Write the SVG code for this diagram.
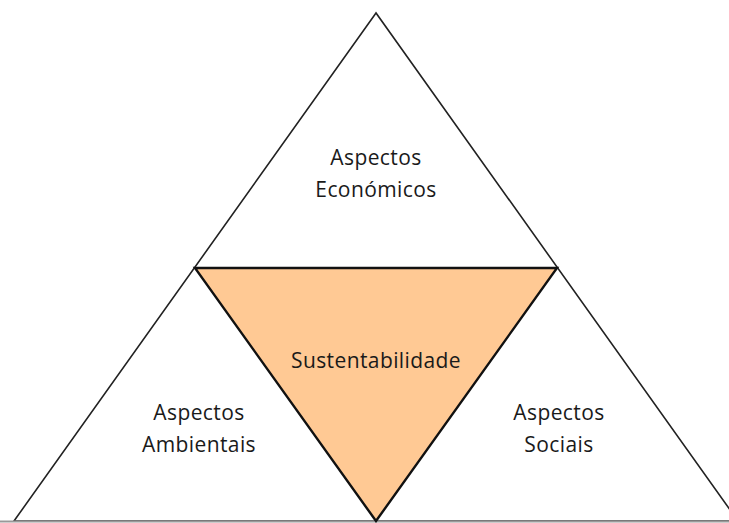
<svg xmlns="http://www.w3.org/2000/svg" width="729" height="523" viewBox="0 0 729 523">
<style>
.lbl{font-family:"Open Sans","Liberation Sans",sans-serif;font-size:21px;letter-spacing:0.4px;fill:#1a1a1a;text-anchor:middle}
.outer{fill:#fff;stroke:#222;stroke-width:1.6}
.inner{fill:#FFC994;stroke:#111;stroke-width:2.4;stroke-linejoin:miter}
</style>
<rect width="729" height="523" fill="#fff"/>
<g id="outer-triangle"><polygon class="outer" points="376,13 14,521 738,521"/></g>
<g id="connectors"><line x1="0" y1="521.5" x2="729" y2="521.5" stroke="#999" stroke-width="2"/></g>
<g id="sustentabilidade"><polygon class="inner" points="195,268 557,268 376,521"/><text class="lbl" x="376" y="368">Sustentabilidade</text></g>
<g id="economicos"><text class="lbl" x="376" y="165">Aspectos</text><text class="lbl" x="376" y="197">Económicos</text></g>
<g id="ambientais"><text class="lbl" x="199" y="420">Aspectos</text><text class="lbl" x="199" y="452">Ambientais</text></g>
<g id="sociais"><text class="lbl" x="559" y="420">Aspectos</text><text class="lbl" x="559" y="452">Sociais</text></g>
</svg>
